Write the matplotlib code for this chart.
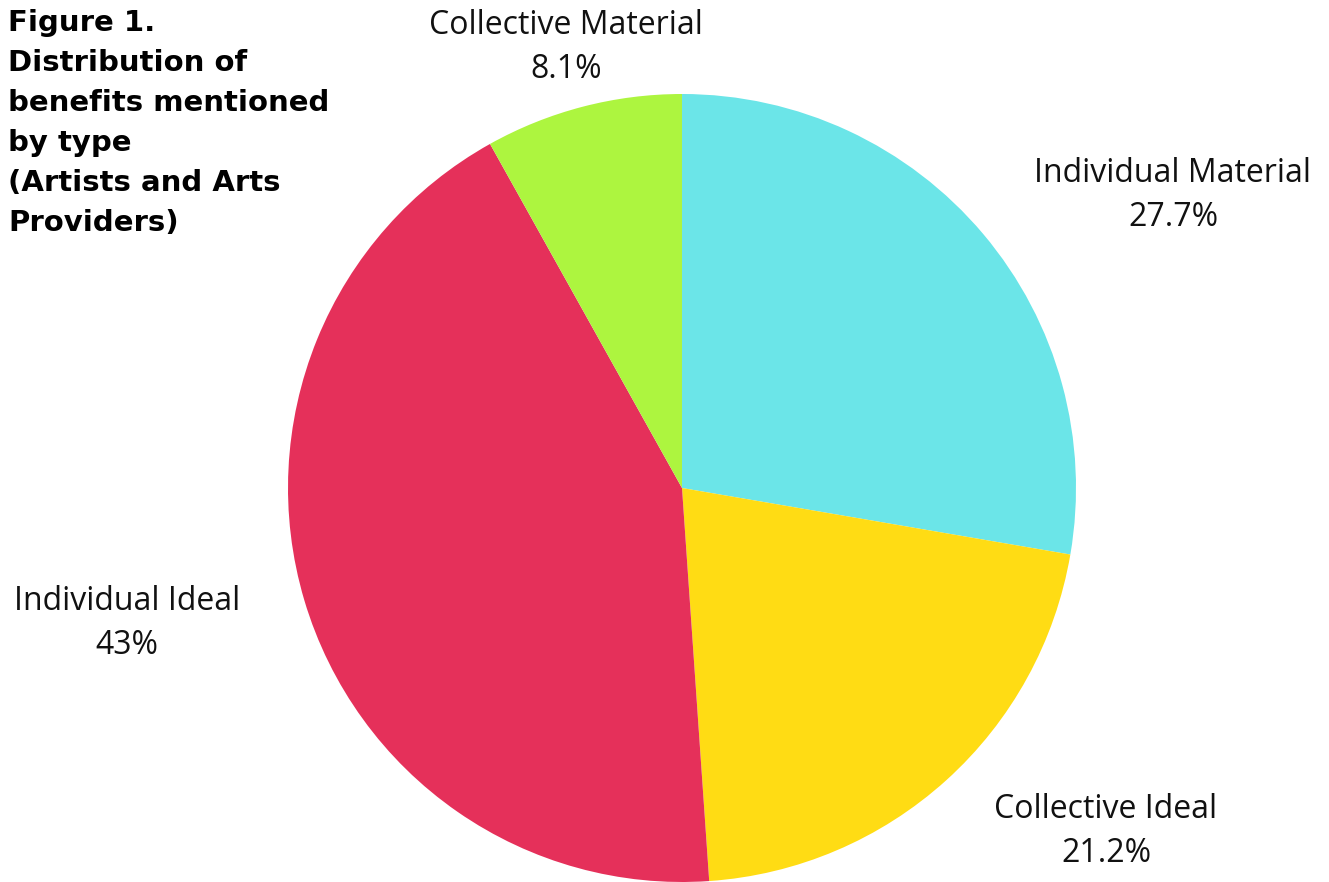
import matplotlib.pyplot as plt

categories = ['Individual Material', 'Collective Ideal', 'Individual Ideal', 'Collective Material']
shares = [27.7, 21.2, 43, 8.1]
colors = ['#6BE5E8', '#FFDC14', '#E5305A', '#ADF53F']

# label anchors in figure pixels (x centre, y of first line from top)
label_pos = [(1173, 174), (1106, 809), (127, 601), (566, 25)]

W, H = 1329, 882
fig = plt.figure(figsize=(W / 100, H / 100), dpi=100)

# pie: centre (682, 488), radius 394 px
ax = fig.add_axes([288 / W, 0, 788 / W, 788 / H])
ax.pie(shares, colors=colors, startangle=90, counterclock=False,
       radius=1, wedgeprops=dict(linewidth=0))
ax.set_xlim(-1, 1)
ax.set_ylim(-1, 1)
ax.set_aspect('equal')
ax.axis('off')

for name, val, (px, py) in zip(categories, shares, label_pos):
    fig.text(px / W, 1 - py / H, name, ha='center', va='center',
             fontsize=23, family='Open Sans', color='#111111')
    fig.text(px / W, 1 - (py + 44) / H, f'{val:g}%', ha='center', va='center',
             fontsize=23, family='Open Sans', color='#111111')

title = ['Figure 1.', 'Distribution of', 'benefits mentioned', 'by type',
         '(Artists and Arts', 'Providers)']
for i, line in enumerate(title):
    fig.text(8 / W, 1 - (23 + 40 * i) / H, line, ha='left', va='center',
             fontsize=21, family='DejaVu Sans', weight='bold', color='black')

fig.savefig('out.png', dpi=100)
